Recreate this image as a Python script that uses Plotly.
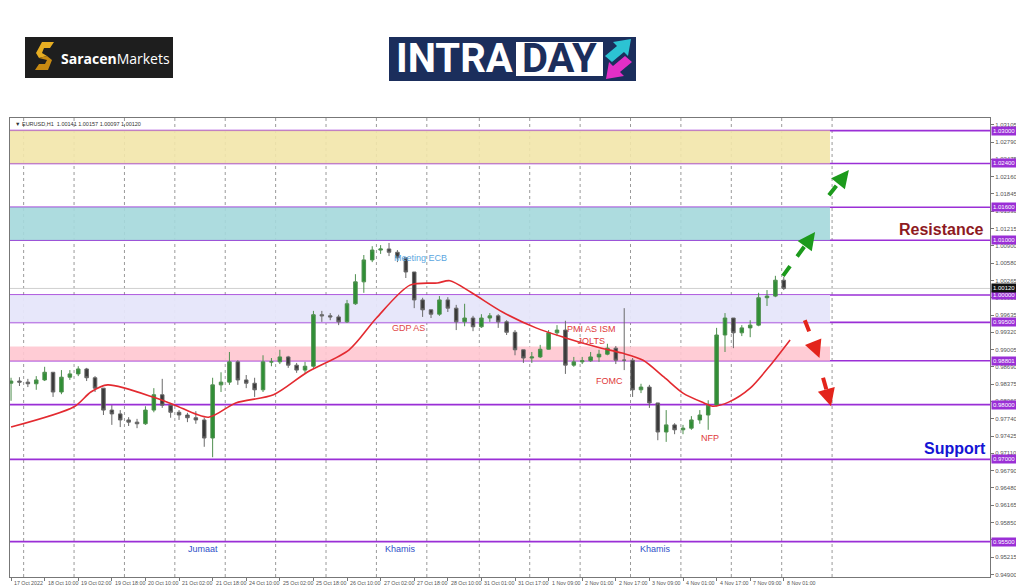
import plotly.graph_objects as go

# ---------------- data ----------------
# 4-hour candles on an hourly bar index (0 = 17 Oct 18:00)
bar_index = list(range(0, 369, 4))
first_open = 0.9839
close = [0.9843, 0.9841, 0.9838, 0.9845, 0.9859, 0.9823, 0.9850, 0.9856, 0.9865, 0.9849,
         0.9830, 0.9790, 0.9783, 0.9772, 0.9768, 0.9765, 0.9790, 0.9818, 0.9799, 0.9786,
         0.9781, 0.9776, 0.9772, 0.9739, 0.9836, 0.9841, 0.9878, 0.9845, 0.9839, 0.9827,
         0.9878, 0.9878, 0.9887, 0.9872, 0.9863, 0.9870, 0.9964, 0.9962, 0.9960, 0.9951,
         0.9984, 1.0024, 1.0064, 1.0082, 1.0084, 1.0078, 1.0068, 1.0042, 0.9991, 0.9973,
         0.9965, 0.9991, 0.9976, 0.9951, 0.9958, 0.9942, 0.9958, 0.9962, 0.9951, 0.9932,
         0.9900, 0.9885, 0.9887, 0.9901, 0.9931, 0.9936, 0.9872, 0.9878, 0.9880, 0.9887,
         0.9892, 0.9903, 0.9881, 0.9881, 0.9827, 0.9832, 0.9803, 0.9750, 0.9763, 0.9754,
         0.9757, 0.9772, 0.9781, 0.9799, 0.9927, 0.9958, 0.9931, 0.9940, 0.9945, 0.9995,
         0.9998, 1.0027, 1.0012]
high = [0.9849, 0.9850, 0.9847, 0.9852, 0.9869, 0.9859, 0.9863, 0.9863, 0.9870, 0.9867,
        0.9852, 0.9830, 0.9799, 0.9790, 0.9777, 0.9774, 0.9797, 0.9830, 0.9847, 0.9803,
        0.9790, 0.9785, 0.9788, 0.9776, 0.9849, 0.9859, 0.9896, 0.9881, 0.9854, 0.9849,
        0.9890, 0.9885, 0.9900, 0.9889, 0.9876, 0.9878, 0.9971, 0.9971, 0.9967, 0.9964,
        0.9991, 1.0038, 1.0073, 1.0089, 1.0091, 1.0095, 1.0082, 1.0068, 1.0042, 0.9995,
        0.9973, 0.9998, 0.9996, 0.9982, 0.9984, 0.9962, 0.9965, 0.9967, 0.9965, 0.9954,
        0.9936, 0.9900, 0.9896, 0.9909, 0.9936, 0.9945, 0.9953, 0.9887, 0.9887, 0.9896,
        0.9900, 0.9911, 0.9907, 0.9976, 0.9885, 0.9838, 0.9836, 0.9799, 0.9790, 0.9766,
        0.9763, 0.9779, 0.9790, 0.9808, 0.9940, 0.9967, 0.9958, 0.9945, 0.9954, 1.0004,
        1.0009, 1.0035, 1.0033]
low = [0.9807, 0.9834, 0.9832, 0.9827, 0.9843, 0.9814, 0.9819, 0.9845, 0.9852, 0.9843,
       0.9823, 0.9781, 0.9763, 0.9759, 0.9761, 0.9757, 0.9763, 0.9786, 0.9794, 0.9776,
       0.9772, 0.9768, 0.9765, 0.9723, 0.9704, 0.9823, 0.9836, 0.9836, 0.9830, 0.9814,
       0.9823, 0.9870, 0.9874, 0.9867, 0.9858, 0.9858, 0.9867, 0.9951, 0.9954, 0.9945,
       0.9949, 0.9982, 1.0004, 1.0060, 1.0075, 1.0071, 1.0060, 1.0031, 0.9976, 0.9960,
       0.9958, 0.9962, 0.9969, 0.9936, 0.9943, 0.9934, 0.9940, 0.9951, 0.9940, 0.9927,
       0.9890, 0.9876, 0.9876, 0.9885, 0.9900, 0.9925, 0.9856, 0.9869, 0.9874, 0.9878,
       0.9878, 0.9890, 0.9874, 0.9863, 0.9814, 0.9821, 0.9794, 0.9735, 0.9732, 0.9746,
       0.9746, 0.9754, 0.9765, 0.9754, 0.9797, 0.9896, 0.9903, 0.9925, 0.9923, 0.9943,
       0.9980, 0.9996, 1.0009]

# moving average line (read at selected bars)
ma_index = [0, 30, 38, 46, 69, 78, 94, 107, 125, 141, 161, 174, 190, 203, 209, 219,
            234, 250, 263, 279, 291, 301, 311, 320, 330, 334, 342, 352, 361, 371]
ma_value = [0.9759, 0.9796, 0.9823, 0.9836, 0.9812, 0.9799, 0.9777, 0.9803, 0.9818, 0.9859,
            0.9900, 0.9958, 1.0018, 1.0022, 1.0026, 1.0005, 0.9969, 0.9940, 0.9923, 0.9905,
            0.9894, 0.9881, 0.9850, 0.9821, 0.9803, 0.9797, 0.9805, 0.9830, 0.9869, 0.9918]

# horizontal levels
levels = [1.03000, 1.02400, 1.01600, 1.01000, 1.00000, 0.99500, 0.98801, 0.98000, 0.97000, 0.95500]
level_text = ["1.03000", "1.02400", "1.01600", "1.01000", "1.00000", "0.99500", "0.98801",
              "0.98000", "0.97000", "0.95500"]
current_price = 1.00120

# zones (low, high)
zone_low = [1.0240, 1.0100, 0.9950, 0.98801]
zone_high = [1.0300, 1.0160, 1.0000, 0.9906]
zone_color = ["rgba(242,230,170,0.9)", "rgba(164,216,220,0.9)",
              "rgba(230,230,250,0.95)", "rgba(255,198,208,0.9)"]
zone_end = 390

# price axis ticks
y_ticks = [0.94900, 0.95215, 0.95535, 0.95850, 0.96165, 0.96480, 0.96790, 0.97110, 0.97425,
           0.97740, 0.98060, 0.98375, 0.98690, 0.99005, 0.99320, 0.99635, 0.99950, 1.00265,
           1.00580, 1.00900, 1.01215, 1.01530, 1.01845, 1.02160, 1.02475, 1.02790, 1.03105]

# time axis
x_tick_index = list(range(0, 369, 16))
x_tick_text = ["17 Oct 2022", "18 Oct 10:00", "19 Oct 02:00", "19 Oct 18:00", "20 Oct 10:00",
               "21 Oct 02:00", "21 Oct 18:00", "24 Oct 10:00", "25 Oct 02:00", "25 Oct 18:00",
               "26 Oct 10:00", "27 Oct 02:00", "27 Oct 18:00", "28 Oct 10:00", "31 Oct 01:00",
               "31 Oct 17:00", "1 Nov 09:00", "2 Nov 01:00", "2 Nov 17:00", "3 Nov 09:00",
               "4 Nov 01:00", "4 Nov 17:00", "7 Nov 09:00", "8 Nov 01:00"]
day_start_index = [6, 30, 54, 78, 102, 126, 150, 174, 198, 223, 247, 271, 295, 319, 343, 367, 391]

# event notes (bar index, price, text, colour)
note_x = [181.4, 189.3, 276.5, 285.0, 333.0, 91.4, 185.7, 307.0]
note_y = [1.0068, 0.9940, 0.9927, 0.9843, 0.9739, 0.9537, 0.9537, 0.9537]
note_text = ["Meeting ECB", "GDP AS", "PMI AS ISM<br>JOLTS", "FOMC", "NFP", "Jumaat", "Khamis", "Khamis"]
note_color = ["#5aa6e0", "#e04848", "#e03a3a", "#e03a3a", "#e03a3a", "#2f4fc8", "#2f4fc8", "#2f4fc8"]

# scenario arrows (start bar, start price, end bar, end price)
arrow_x0 = [367.6, 389.5, 378.0, 386.7]
arrow_y0 = [1.0035, 1.0182, 0.9954, 0.9849]
arrow_x1 = [382.9, 399.0, 385.0, 390.5]
arrow_y1 = [1.0115, 1.0228, 0.9885, 0.9797]
arrow_color = ["#1c9a1c", "#1c9a1c", "#e3241b", "#e3241b"]

# ---------------- figure ----------------
# the page has an 8px body margin, so the figure is placed at (8, 8)
OFF = 8
W, H = 1016, 579
L, R, T, B = 2, 34, 110, 10
X_RANGE = [-0.5, 466.2]
Y_RANGE = [0.94854, 1.0323]


def px_x(px):
    return (px - OFF - L) / (W - L - R)


def px_y(py):
    return (H - B - (py - OFF)) / (H - T - B)


opens = [first_open] + close[:-1]

fig = go.Figure()

fig.add_trace(go.Candlestick(
    x=bar_index, open=opens, high=high, low=low, close=close,
    increasing=dict(line=dict(color="#4f8f4f", width=1), fillcolor="#2f8f35"),
    decreasing=dict(line=dict(color="#6a6a6a", width=1), fillcolor="#3a3a3a"),
    whiskerwidth=0, showlegend=False, hoverinfo="skip"))

fig.add_trace(go.Scatter(x=ma_index, y=ma_value, mode="lines",
                         line=dict(color="#e32a30", width=1.6, shape="spline", smoothing=0.8),
                         showlegend=False, hoverinfo="skip"))

shapes = []
for lo, hi, col in zip(zone_low, zone_high, zone_color):
    shapes.append(dict(type="rect", xref="x", yref="y", x0=X_RANGE[0], x1=zone_end, y0=lo, y1=hi,
                       fillcolor=col, line=dict(width=0), layer="below"))
for d in day_start_index:
    shapes.append(dict(type="line", xref="x", yref="paper", x0=d, x1=d, y0=0, y1=1,
                       line=dict(color="#9a9a9a", width=1, dash="dot"), layer="below"))
shapes.append(dict(type="line", xref="paper", yref="y", x0=0, x1=1, y0=current_price, y1=current_price,
                   line=dict(color="#cfcfcf", width=1), layer="below"))
for lv in levels:
    shapes.append(dict(type="line", xref="paper", yref="y", x0=0, x1=1, y0=lv, y1=lv,
                       line=dict(color="#9a2fd6", width=1.6), layer="below"))
for x0, y0, x1, y1, c in zip(arrow_x0, arrow_y0, arrow_x1, arrow_y1, arrow_color):
    shapes.append(dict(type="line", xref="x", yref="y", x0=x0, y0=y0,
                       x1=x0 + (x1 - x0) * 0.8, y1=y0 + (y1 - y0) * 0.8,
                       line=dict(color=c, width=4, dash="dash")))

# logos
shapes.append(dict(type="rect", xref="paper", yref="paper", x0=px_x(25), x1=px_x(173),
                   y0=px_y(78), y1=px_y(37), fillcolor="#1e1e1e", line=dict(width=0)))
shapes.append(dict(type="rect", xref="paper", yref="paper", x0=px_x(389), x1=px_x(636),
                   y0=px_y(81), y1=px_y(37), fillcolor="#1b2e5c", line=dict(width=0)))
shapes.append(dict(type="rect", xref="paper", yref="paper", x0=px_x(516), x1=px_x(603),
                   y0=px_y(76), y1=px_y(42), fillcolor="#ffffff", line=dict(width=0)))


def poly(points, color):
    path = "M " + " L ".join(f"{px_x(a):.5f},{px_y(b):.5f}" for a, b in points) + " Z"
    return dict(type="path", xref="paper", yref="paper", path=path, fillcolor=color, line=dict(width=0))


shapes.append(poly([(605, 56), (617, 46), (613, 42), (631, 39), (628, 56), (624, 52), (612, 62)], "#2cc3d3"))
shapes.append(poly([(632, 62), (620, 72), (624, 76), (606, 79), (609, 62), (613, 66), (625, 56)], "#e22fc6"))
# stylised gold "S"
shapes.append(poly([(42, 42), (54, 42), (50, 48), (44, 48), (42, 53), (47, 56), (39, 58), (36, 53)], "#e6ad22"))
shapes.append(poly([(47, 56), (52, 60), (48, 70), (35, 70), (39, 64), (45, 64), (47, 60), (39, 58)], "#c88a12"))

annotations = []
for i, t in zip(x_tick_index, x_tick_text):
    annotations.append(dict(x=i, y=0, xref="x", yref="paper", text=t, showarrow=False,
                            xanchor="left", yanchor="top", xshift=1, yshift=-1,
                            font=dict(size=5.3, color="#555", family="Liberation Sans")))
for lv, t in zip(levels, level_text):
    annotations.append(dict(x=1, y=lv, xref="paper", yref="y", text=t, showarrow=False,
                            xanchor="left", yanchor="middle", xshift=1, bgcolor="#9a2fd6",
                            borderpad=1, font=dict(size=6, color="white", family="Liberation Sans")))
annotations.append(dict(x=1, y=current_price, xref="paper", yref="y", text="1.00120", showarrow=False,
                        xanchor="left", yanchor="middle", xshift=1, bgcolor="#111",
                        borderpad=1, font=dict(size=6, color="white", family="Liberation Sans")))
for x, y, t, c in zip(note_x, note_y, note_text, note_color):
    annotations.append(dict(x=x, y=y, xref="x", yref="y", text=t, showarrow=False,
                            xanchor="left" if t == "Meeting ECB" else "center", yanchor="middle",
                            font=dict(size=9, color=c, family="Liberation Sans")))
annotations.append(dict(x=px_x(941), y=px_y(229), xref="paper", yref="paper", text="<b>Resistance</b>",
                        showarrow=False, xanchor="center", yanchor="middle",
                        font=dict(size=16, color="#8e1a1f", family="Liberation Sans")))
annotations.append(dict(x=px_x(955), y=px_y(448), xref="paper", yref="paper", text="<b>Support</b>",
                        showarrow=False, xanchor="center", yanchor="middle",
                        font=dict(size=16, color="#1414d4", family="Liberation Sans")))
for k in range(len(arrow_x1)):
    x0, y0, x1, y1, c = arrow_x0[k], arrow_y0[k], arrow_x1[k], arrow_y1[k], arrow_color[k]
    annotations.append(dict(x=x1, y=y1, xref="x", yref="y", text="", showarrow=True,
                            axref="x", ayref="y", ax=x1 - (x1 - x0) * 0.3, ay=y1 - (y1 - y0) * 0.3,
                            arrowhead=2, arrowsize=1.0, arrowwidth=3.5, arrowcolor=c))
annotations.append(dict(x=px_x(13), y=px_y(124), xref="paper", yref="paper",
                        text="▼ EURUSD,H1  1.00141 1.00157 1.00097 1.00120", showarrow=False,
                        xanchor="left", yanchor="middle",
                        font=dict(size=5.5, color="#333", family="Liberation Sans")))
annotations.append(dict(x=px_x(59), y=px_y(58), xref="paper", yref="paper",
                        text="<b>Saracen</b>Markets", showarrow=False, xanchor="left", yanchor="middle",
                        font=dict(size=14, color="white", family="Open Sans")))
annotations.append(dict(x=px_x(394), y=px_y(59), xref="paper", yref="paper", text="<b>INTRA</b>",
                        showarrow=False, xanchor="left", yanchor="middle",
                        font=dict(size=40, color="white", family="Roboto")))
annotations.append(dict(x=px_x(559.5), y=px_y(59), xref="paper", yref="paper", text="<b>DAY</b>",
                        showarrow=False, xanchor="center", yanchor="middle",
                        font=dict(size=40, color="#1b2e5c", family="Roboto")))

fig.update_layout(
    width=W, height=H, margin=dict(l=L, r=R, t=T, b=B),
    paper_bgcolor="white", plot_bgcolor="white", boxgap=0.4,
    shapes=shapes, annotations=annotations, showlegend=False,
    xaxis=dict(range=X_RANGE, rangeslider=dict(visible=False), showgrid=False, zeroline=False,
               showline=True, linecolor="#777", linewidth=1, mirror=True,
               tickvals=x_tick_index, showticklabels=False, ticks="outside", ticklen=3,
               tickcolor="#777"),
    yaxis=dict(range=Y_RANGE, side="right", showgrid=False, zeroline=False,
               showline=True, linecolor="#777", linewidth=1, mirror=True,
               tickvals=y_ticks, ticktext=[f"{v:.5f}" for v in y_ticks],
               ticks="outside", ticklen=3, tickcolor="#777",
               tickfont=dict(size=6, color="#555", family="Liberation Sans")),
)

fig.write_html("out.html")
